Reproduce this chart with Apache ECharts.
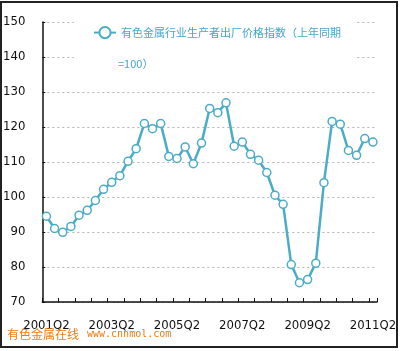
<!DOCTYPE html>
<html>
<head>
<meta charset="utf-8">
<script src="https://cdn.jsdelivr.net/npm/echarts@6/dist/echarts.min.js"></script>
<style>
  html, body { margin: 0; padding: 0; background: #fff; }
  #main { width: 400px; height: 351px; }
</style>
</head>
<body>
<div id="main"></div>
<script>
// 季度：2001Q2 ~ 2011Q2
const quarters = [];
for (let y = 2001, q = 2; y < 2011 || (y === 2011 && q <= 2); ) {
  quarters.push(y + 'Q' + q);
  q++;
  if (q > 4) { q = 1; y++; }
}

// 有色金属行业生产者出厂价格指数（上年同期=100）
const priceIndex = [
  94.5, 91.0, 89.9, 91.6, 94.8, 96.2, 99.0, 102.2, 104.2, 106.1,
  110.2, 113.8, 121.0, 119.5, 121.0, 111.6, 111.0, 114.3, 109.5, 115.4,
  125.3, 124.1, 126.9, 114.5, 115.7, 112.2, 110.5, 107.0, 100.5, 97.9,
  80.7, 75.5, 76.4, 81.1, 104.1, 121.6, 120.8, 113.3, 111.9, 116.7, 115.7
];

const seriesName = '有色金属行业生产者出厂价格指数（上年同期';
const lineColor = '#4bacc6';
const textBlue = '#45a6cc';
const narrow = '"Liberation Sans Narrow", "DejaVu Sans Condensed", sans-serif';

let myChart = echarts.init(document.getElementById('main'));
myChart.setOption({
  animation: false,
  backgroundColor: '#fff',
  grid: { left: 41, right: 23, top: 22, bottom: 49 },
  legend: {
    left: 74,
    top: 12,
    padding: [14, 14, 38, 19],
    backgroundColor: '#fff',
    itemWidth: 22,
    itemHeight: 14,
    textStyle: {
      fontFamily: '"Noto Sans CJK SC"',
      fontSize: 11,
      color: textBlue
    },
    data: [seriesName]
  },
  xAxis: {
    type: 'category',
    data: quarters,
    boundaryGap: true,
    axisLine: { show: true, lineStyle: { color: '#111', width: 1.5 } },
    axisTick: { show: true, inside: true, length: 4, interval: 1, lineStyle: { color: '#111', width: 1 } },
    axisLabel: {
      interval: 7,
      margin: 17,
      color: '#111',
      fontFamily: narrow,
      fontSize: 13
    },
    splitLine: { show: false }
  },
  yAxis: {
    type: 'value',
    min: 70,
    max: 150,
    interval: 10,
    axisLine: { show: true, lineStyle: { color: '#111', width: 1.5 } },
    axisTick: { show: true, inside: true, length: 3, lineStyle: { color: '#111', width: 1 } },
    axisLabel: {
      margin: 17,
      color: '#111',
      fontFamily: narrow,
      fontSize: 13
    },
    splitLine: {
      lineStyle: { color: '#b4b4b4', type: [2, 3], width: 1 }
    }
  },
  series: [{
    name: seriesName,
    type: 'line',
    data: priceIndex,
    symbol: 'circle',
    symbolSize: 8,
    showAllSymbol: true,
    lineStyle: { color: lineColor, width: 2.5 },
    itemStyle: { color: '#fff', borderColor: lineColor, borderWidth: 1.5 }
  }],
  graphic: [
    {
      type: 'text',
      z: 100,
      left: 118,
      top: 58,
      style: {
        text: '=100）',
        fill: textBlue,
        fontSize: 11,
        fontFamily: '"Noto Sans CJK SC"'
      }
    },
    {
      type: 'text',
      z: 100,
      left: 7,
      top: 328,
      style: {
        text: '有色金属在线',
        fill: '#f07c10',
        fontSize: 12,
        fontFamily: '"Noto Sans CJK SC"'
      }
    },
    {
      type: 'text',
      z: 100,
      left: 87,
      top: 329,
      style: {
        text: 'www.cnnmol.com',
        fill: '#f07c10',
        fontSize: 10,
        fontFamily: 'DejaVu Sans Mono'
      }
    },
    {
      type: 'rect',
      z: 100,
      shape: { x: 1, y: 2, width: 396, height: 345 },
      style: { fill: 'none', stroke: '#222', lineWidth: 2 }
    }
  ]
});
</script>
</body>
</html>
